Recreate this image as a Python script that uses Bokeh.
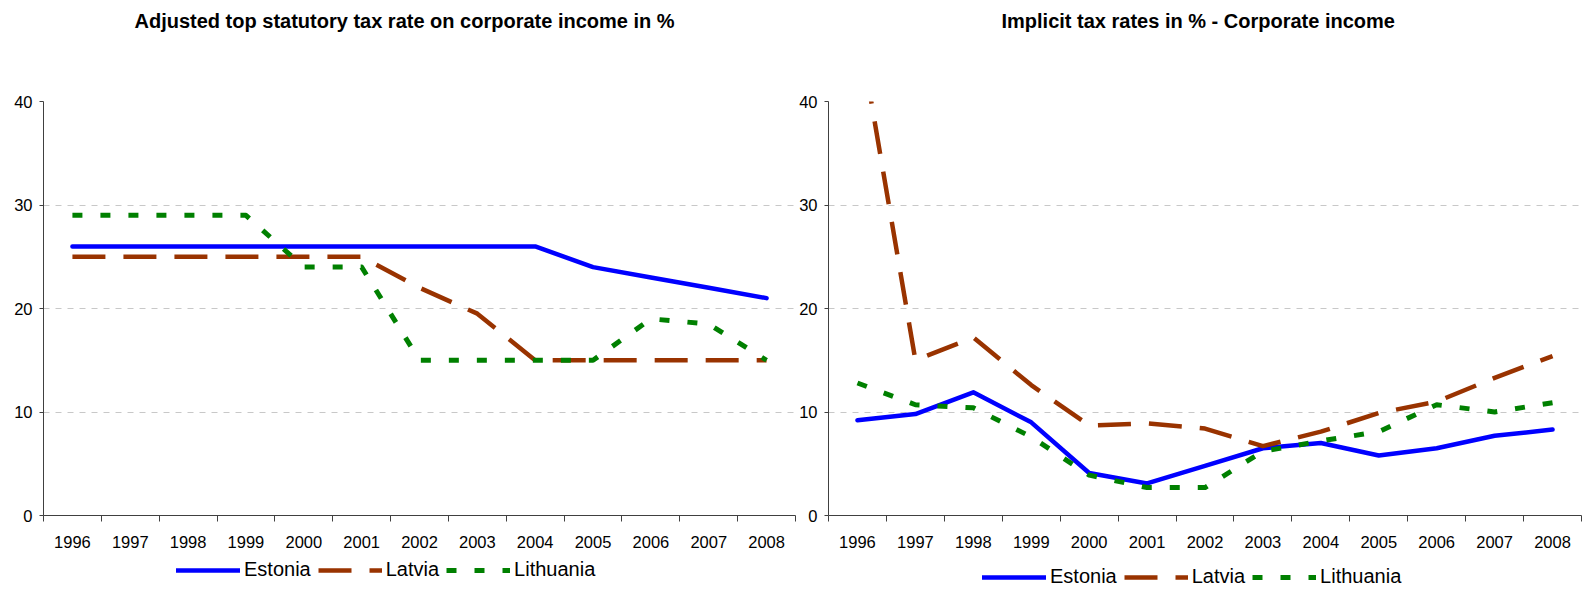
from bokeh.plotting import figure
from bokeh.models import Range1d, FixedTicker, Legend, LegendItem, Label
from bokeh.layouts import row, column
from bokeh.embed import file_html
from bokeh.resources import INLINE

years = [1996, 1997, 1998, 1999, 2000, 2001, 2002, 2003, 2004, 2005, 2006, 2007, 2008]

# Adjusted top statutory tax rate on corporate income (%)
stat_estonia = [26, 26, 26, 26, 26, 26, 26, 26, 26, 24, 23, 22, 21]
stat_latvia = [25, 25, 25, 25, 25, 25, 22, 19.5, 15, 15, 15, 15, 15]
stat_lithuania = [29, 29, 29, 29, 24, 24, 15, 15, 15, 15, 19, 18.5, 15]

# Implicit tax rates (%) - corporate income
itr_estonia = [9.2, 9.8, 11.9, 9.0, 4.1, 3.1, 4.8, 6.5, 7.0, 5.8, 6.5, 7.7, 8.3]
itr_latvia = [47.8, 15.0, 17.2, 12.6, 8.7, 8.9, 8.4, 6.7, 8.1, 9.9, 11.0, 13.3, 15.4]
itr_lithuania = [12.8, 10.7, 10.4, 7.6, 3.9, 2.7, 2.7, 6.2, 7.2, 8.1, 10.7, 10.0, 10.9]

y_ticks = [0, 10, 20, 30, 40]
series_names = ["Estonia", "Latvia", "Lithuania"]
titles = ["Adjusted top statutory tax rate on corporate income in %",
          "Implicit tax rates in % - Corporate income"]

FONT = "Liberation Sans"
AXIS_COLOR = "#404040"
STYLES = [dict(line_color="#0000ff", line_width=4.5, line_join="round", line_cap="round"),
          dict(line_color="#993300", line_width=4.5, line_dash="33 18", line_join="round"),
          dict(line_color="#008000", line_width=5, line_dash="10 18", line_join="round")]

W_LEFT, W_RIGHT = 796, 789
H_TOP, H_MAIN, H_LEG = 40, 515, 34


def make_panel(series, width, border_left, border_right):
    p = figure(width=width, height=H_MAIN, output_backend="svg", toolbar_location=None,
               x_range=Range1d(1995.5, 2008.5), y_range=Range1d(0, 40),
               min_border_left=border_left, min_border_right=border_right,
               min_border_top=61, min_border_bottom=40)
    p.outline_line_color = None
    p.background_fill_color = "white"
    p.border_fill_color = "white"

    xa = p.xaxis[0]
    xa.ticker = FixedTicker(ticks=years, minor_ticks=[y - 0.5 for y in years] + [years[-1] + 0.5])
    xa.major_tick_out = 0
    xa.major_tick_in = 0
    xa.minor_tick_out = 6
    xa.minor_tick_in = 0
    xa.minor_tick_line_color = AXIS_COLOR
    xa.axis_line_color = AXIS_COLOR
    xa.major_label_text_font = FONT
    xa.major_label_text_font_size = "16.5px"
    xa.major_label_text_color = "black"
    xa.major_label_standoff = 14

    ya = p.yaxis[0]
    ya.ticker = FixedTicker(ticks=y_ticks, minor_ticks=[])
    ya.major_tick_out = 4
    ya.major_tick_in = 0
    ya.major_tick_line_color = AXIS_COLOR
    ya.axis_line_color = AXIS_COLOR
    ya.major_label_text_font = FONT
    ya.major_label_text_font_size = "16.5px"
    ya.major_label_text_color = "black"
    ya.major_label_standoff = 7

    p.xgrid.grid_line_color = None
    p.ygrid.grid_line_color = "#c8c8c8"
    p.ygrid.grid_line_dash = "6 6"
    p.ygrid.grid_line_width = 1
    p.ygrid.ticker = FixedTicker(ticks=y_ticks[1:])

    for vals, st in zip(series, STYLES):
        p.line(years, vals, **st)
    return p


def strip(height):
    s = figure(width=W_LEFT + W_RIGHT, height=height, output_backend="svg",
               toolbar_location=None, x_range=Range1d(0, W_LEFT + W_RIGHT),
               y_range=Range1d(0, height), x_axis_type=None, y_axis_type=None,
               min_border_left=0, min_border_right=0, min_border_top=0, min_border_bottom=0)
    s.outline_line_color = None
    s.xgrid.grid_line_color = None
    s.ygrid.grid_line_color = None
    s.background_fill_color = "white"
    s.border_fill_color = "white"
    return s


# titles strip
top = strip(H_TOP)
for tx, x in zip(titles, [134, 1001]):
    top.add_layout(Label(x=x, y=H_TOP - 20, text=tx, text_font=FONT, text_font_size="20px",
                         text_font_style="bold", text_color="black",
                         text_baseline="middle", text_align="left"))

left = make_panel([stat_estonia, stat_latvia, stat_lithuania], W_LEFT, 43, 1)
right = make_panel([itr_estonia, itr_latvia, itr_lithuania], W_RIGHT, 27, 4)

# legend strip (series keys); the key renderers hold no visible data
leg = strip(H_LEG)
nan = float("nan")
proxies = [leg.line(x=[nan, nan], y=[nan, nan], **st) for st in STYLES]
for lx, ly in [(176, 8), (982, 1)]:
    lg = Legend(items=[LegendItem(label=n, renderers=[r]) for n, r in zip(series_names, proxies)],
                orientation="horizontal", location=(lx, ly),
                label_text_font=FONT, label_text_font_size="20px", label_text_color="black",
                glyph_width=64, glyph_height=20, label_standoff=4, spacing=7,
                padding=0, margin=0, border_line_color=None, background_fill_alpha=0)
    leg.add_layout(lg, "center")

layout = column(top, row(left, right), leg)
open("out.html", "w").write(file_html(layout, INLINE))
